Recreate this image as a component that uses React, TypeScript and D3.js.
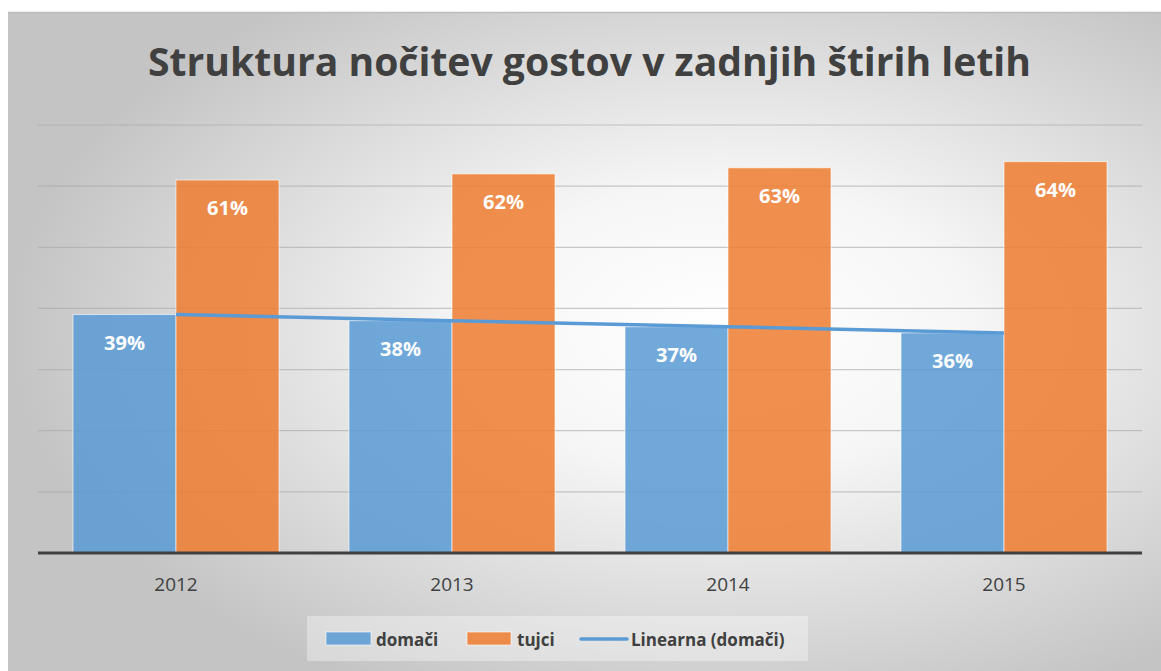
import React from "react";
import * as d3 from "d3";

const years = ["2012", "2013", "2014", "2015"];
const domaci = [39, 38, 37, 36];
const tujci = [61, 62, 63, 64];
const seriesNames = ["domači", "tujci"];
const yTicks = [10, 20, 30, 40, 50, 60, 70];
const title = "Struktura nočitev gostov v zadnjih štirih letih";
const trendName = "Linearna (domači)";

const W = 1161;
const H = 671;
const BLUE = "#5B9BD5";
const ORANGE = "#ED7D31";
const TEXT = "#404040";
const FONT = "'Open Sans', sans-serif";

export default function App() {
  const x = d3
    .scaleBand<string>()
    .domain(years)
    .range([38, 1142])
    .paddingInner(70 / 276)
    .paddingOuter(35 / 276);
  const xs = d3.scaleBand<string>().domain(seriesNames).range([0, x.bandwidth()]);
  const y = d3.scaleLinear().domain([0, 70]).range([553, 125]);

  // linear trend of domači
  const idx = years.map((_, i) => i + 1);
  const mx = d3.mean(idx)!;
  const my = d3.mean(domaci)!;
  const slope =
    d3.sum(idx.map((v, i) => (v - mx) * (domaci[i] - my))) /
    d3.sum(idx.map((v) => (v - mx) * (v - mx)));
  const icpt = my - slope * mx;
  const trendPts: [number, number][] = years.map((yr, i) => [
    x(yr)! + x.bandwidth() / 2,
    y(icpt + slope * idx[i]),
  ]);
  const line = d3.line();

  const series = [
    { name: seriesNames[0], values: domaci, color: BLUE },
    { name: seriesNames[1], values: tujci, color: ORANGE },
  ];

  return (
    <svg
      width={W}
      height={H}
      style={{ position: "absolute", left: 0, top: 0 }}
      fontFamily={FONT}
    >
      <defs>
        <radialGradient id="bg" cx="0.62" cy="0.48" r="0.62">
          <stop offset="0" stopColor="#ffffff" />
          <stop offset="0.35" stopColor="#f6f6f6" />
          <stop offset="1" stopColor="#c4c4c4" />
        </radialGradient>
      </defs>
      <rect x={0} y={0} width={W} height={H} fill="#ffffff" />
      <rect x={8} y={12} width={W - 8} height={H - 12} fill="url(#bg)" />
      <line x1={8} x2={W} y1={12.5} y2={12.5} stroke="#bdbdbd" strokeWidth={1.5} />

      <text
        x={589.5}
        y={76}
        textAnchor="middle"
        fontSize={40}
        fontWeight="bold"
        fill={TEXT}
        textLength={883}
        lengthAdjust="spacingAndGlyphs"
      >
        {title}
      </text>

      {/* gridlines */}
      {yTicks.map((t) => (
        <line
          key={t}
          x1={38}
          x2={1142}
          y1={y(t)}
          y2={y(t)}
          stroke="#a6a6a6"
          strokeOpacity={0.6}
          strokeWidth={1.2}
        />
      ))}

      {/* bars */}
      {series.map((s) =>
        years.map((yr, i) => {
          const bx = x(yr)! + xs(s.name)!;
          const by = y(s.values[i]);
          return (
            <g key={s.name + yr}>
              <rect
                x={bx}
                y={by}
                width={xs.bandwidth()}
                height={y(0) - by}
                fill={s.color}
                fillOpacity={0.86}
                stroke="#ffffff"
                strokeOpacity={0.6}
                strokeWidth={1}
              />
              <text
                x={bx + xs.bandwidth() / 2}
                y={by + 35}
                textAnchor="middle"
                fontSize={20}
                fontWeight="bold"
                fill="#ffffff"
              >
                {s.values[i]}%
              </text>
            </g>
          );
        })
      )}

      {/* trend line */}
      <path d={line(trendPts)!} fill="none" stroke={BLUE} strokeWidth={3.5} />

      {/* baseline */}
      <line x1={38} x2={1142} y1={y(0)} y2={y(0)} stroke={TEXT} strokeWidth={3} />

      {/* x axis labels */}
      {years.map((yr) => (
        <text
          key={yr}
          x={x(yr)! + x.bandwidth() / 2}
          y={591}
          textAnchor="middle"
          fontSize={19}
          fill={TEXT}
        >
          {yr}
        </text>
      ))}

      {/* legend */}
      <rect x={307} y={616} width={501} height={45} fill="#ffffff" fillOpacity={0.35} />
      <rect x={326} y={632} width={45} height={13} fill={BLUE} fillOpacity={0.86} stroke="#ffffff" strokeOpacity={0.6} />
      <text x={376} y={646} fontSize={17} fontWeight="bold" fill={TEXT}>
        {seriesNames[0]}
      </text>
      <rect x={467} y={632} width={44} height={13} fill={ORANGE} fillOpacity={0.86} stroke="#ffffff" strokeOpacity={0.6} />
      <text x={517} y={646} fontSize={17} fontWeight="bold" fill={TEXT}>
        {seriesNames[1]}
      </text>
      <line x1={581} x2={627} y1={639} y2={639} stroke={BLUE} strokeWidth={3.5} strokeLinecap="round" />
      <text x={631} y={646} fontSize={17} fontWeight="bold" fill={TEXT}>
        {trendName}
      </text>
    </svg>
  );
}
